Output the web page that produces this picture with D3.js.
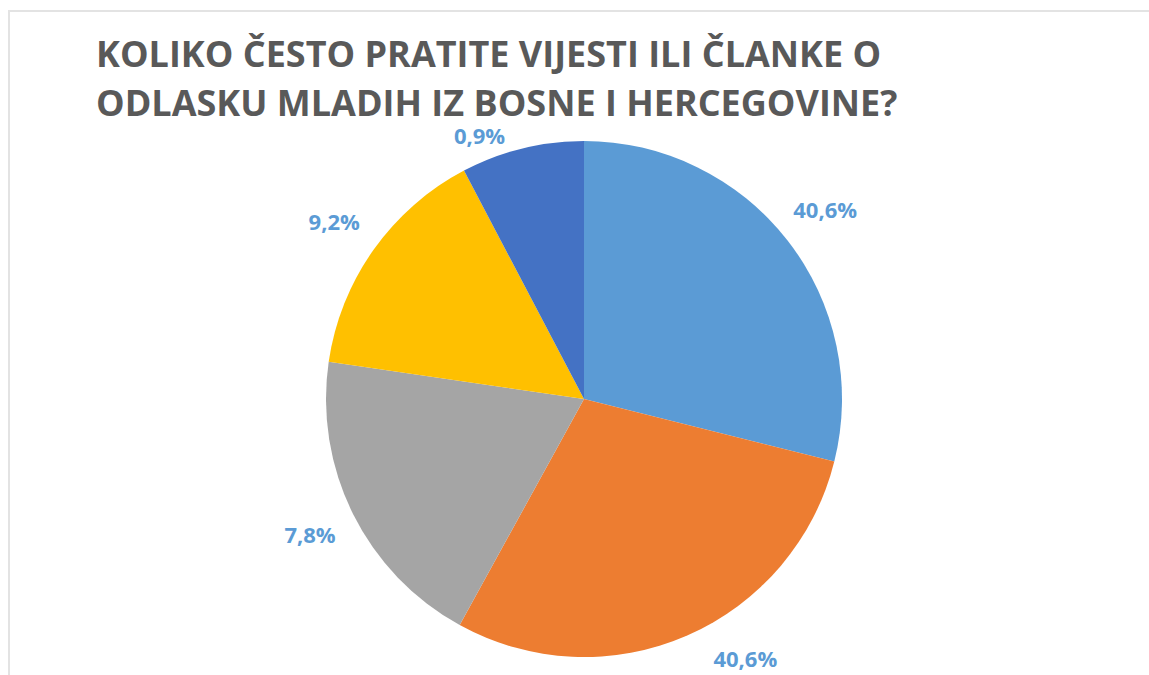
<!DOCTYPE html>
<html>
<head>
<meta charset="utf-8">
<script src="https://cdn.jsdelivr.net/npm/d3@7"></script>
<style>
  body { margin: 0; background: #fff; }
</style>
</head>
<body>
<div id="chart"></div>
<script>
// slice shares as drawn in the picture, labels as printed
const categories = ["a", "b", "c", "d", "e"]
const values = [28.9, 29.1, 19.3, 15.0, 7.7]
const labels = ["40,6%", "40,6%", "7,8%", "9,2%", "0,9%"]
const colors = ["#5b9bd5", "#ed7d31", "#a5a5a5", "#ffc000", "#4472c4"]
const titleLines = [
    "KOLIKO ČESTO PRATITE VIJESTI ILI ČLANKE O",
    "ODLASKU MLADIH IZ BOSNE I HERCEGOVINE?"
]

const width = 1149
const height = 675
const cx = 584
const cy = 399
const radius = 258
const labelRadius = 306
const titleX = 96
const titleY = 67
const titleLineGap = 49

const svg = d3.select("#chart").append("svg")
    .attr("width", width)
    .attr("height", height)

// chart frame
svg.append("rect")
    .attr("x", 9)
    .attr("y", 11)
    .attr("width", width)
    .attr("height", height)
    .attr("fill", "none")
    .attr("stroke", "#e3e3e3")
    .attr("stroke-width", 2)

svg.append("text")
    .attr("x", titleX)
    .attr("y", titleY)
    .attr("fill", "#595959")
    .style("font-family", "'Open Sans', sans-serif")
    .style("font-weight", "bold")
    .style("font-size", "36px")
    .selectAll("tspan")
    .data(titleLines)
    .join("tspan")
    .attr("x", titleX)
    .attr("dy", (d, i) => i === 0 ? 0 : titleLineGap)
    .text(d => d)

const titleBottom = titleY + titleLineGap * (titleLines.length - 1) + 8

const pie = d3.pie().sort(null).value(d => d)
const arcs = pie(values)

const arc = d3.arc().innerRadius(0).outerRadius(radius)
const labelArc = d3.arc().innerRadius(labelRadius).outerRadius(labelRadius)

const g = svg.append("g")
    .attr("transform", "translate(" + cx + "," + cy + ")")

g.selectAll("path")
    .data(arcs)
    .join("path")
    .attr("d", arc)
    .attr("fill", (d, i) => colors[i])

const labelHeight = 20

// keep labels clear of the title and the bottom edge, sliding them round the pie
function labelPos(d) {
    let [x, y] = labelArc.centroid(d)
    const side = x < 0 ? -1 : 1
    if (cy + y - labelHeight / 2 < titleBottom) {
        y = titleBottom + labelHeight / 2 + 2 - cy
        const r = radius + 25
        x = side * Math.sqrt(Math.max(0, r * r - y * y))
    }
    if (cy + y + labelHeight / 2 > height - 6) {
        y = height - 6 - labelHeight / 2 - cy
        x = side * Math.sqrt(Math.max(0, labelRadius * labelRadius - y * y))
    }
    return [x, y]
}

g.selectAll("text")
    .data(arcs)
    .join("text")
    .attr("transform", d => "translate(" + labelPos(d) + ")")
    .attr("text-anchor", "middle")
    .attr("dy", "0.35em")
    .attr("fill", "#5b9bd5")
    .style("font-family", "'Open Sans', sans-serif")
    .style("font-weight", "bold")
    .style("font-size", "22px")
    .text((d, i) => labels[i])
</script>
</body>
</html>
